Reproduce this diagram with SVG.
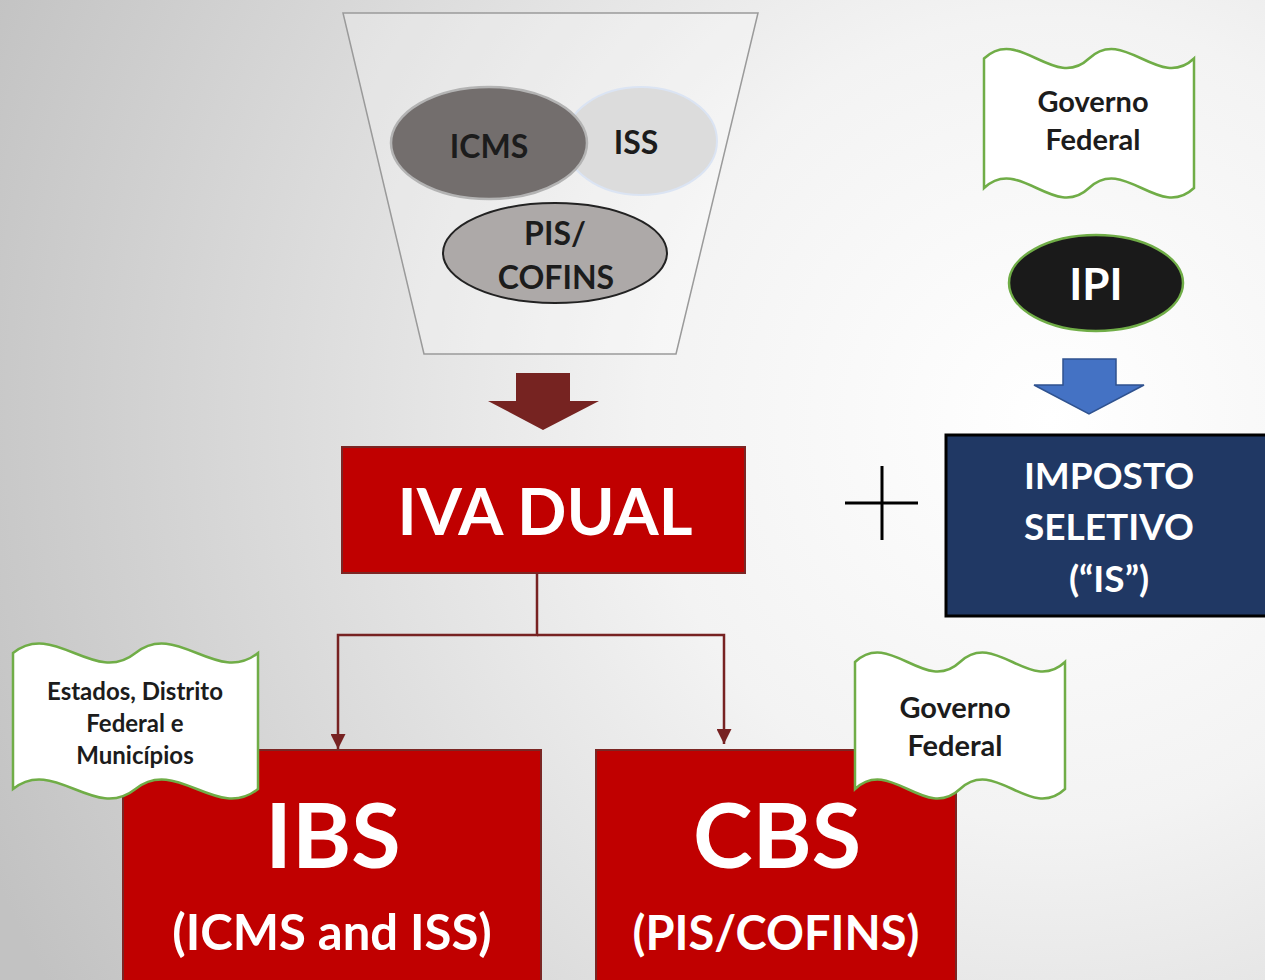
<svg xmlns="http://www.w3.org/2000/svg" width="1265" height="980" viewBox="0 0 1265 980">
<defs>
<radialGradient id="bg" cx="1050" cy="420" r="1150" gradientUnits="userSpaceOnUse">
<stop offset="0" stop-color="#ffffff"/>
<stop offset="0.35" stop-color="#f3f3f3"/>
<stop offset="1" stop-color="#c2c2c2"/>
</radialGradient>
<marker id="ah" viewBox="0 0 10 10" refX="10" refY="5" markerWidth="6" markerHeight="6" markerUnits="strokeWidth" orient="auto">
<path d="M0,0 L10,5 L0,10 Z" fill="#772222"/>
</marker>
<style>
text{font-family:Lato,"Open Sans","Liberation Sans",sans-serif;font-weight:bold;text-anchor:middle}
.dk{fill:#1c1c1c}
.wh{fill:#ffffff}
.red{fill:#c00000;stroke:#7b2624;stroke-width:2}
.banner{fill:#ffffff;stroke:#70ad47;stroke-width:2.5}
.conn{fill:none;stroke:#772222;stroke-width:2.5}
</style>
</defs>
<rect x="0" y="0" width="1265" height="980" fill="url(#bg)"/>

<g id="funnel">
<path d="M343,13 L758,13 L676,354 L424,354 Z" fill="#ffffff" fill-opacity="0.25" stroke="#9a9a9a" stroke-width="1.5"/>
</g>
<g id="iss">
<ellipse cx="641" cy="141" rx="76" ry="54" fill="#dcdcdc" stroke="#dbe4f3" stroke-width="2"/>
<text class="dk" x="636" y="154" font-size="32">ISS</text>
</g>
<g id="icms">
<ellipse cx="489" cy="143" rx="98" ry="56" fill="#736e6d" stroke="#b3b3b3" stroke-width="2.5"/>
<text class="dk" x="489" y="158" font-size="32">ICMS</text>
</g>
<g id="piscofins">
<ellipse cx="555" cy="253" rx="112" ry="50" fill="#ada9a8" stroke="#222222" stroke-width="2"/>
<text class="dk" x="555" y="245" font-size="32">PIS/</text>
<text class="dk" x="556" y="289" font-size="32">COFINS</text>
</g>
<g id="arrow-red">
<path d="M516,373 L570,373 L570,401 L599,401 L543,430 L488,401 L516,401 Z" fill="#762321"/>
</g>

<g id="gov-top">
<path class="banner" d="M984,58.5 C1019,25.5 1054,91.5 1089,58.5 C1124,25.5 1159,91.5 1194,58.5 L1194,188 C1159,221 1124,155 1089,188 C1054,221 1019,155 984,188 Z"/>
<text class="dk" x="1093" y="112" font-size="29">Governo</text>
<text class="dk" x="1093" y="150" font-size="29">Federal</text>
</g>
<g id="ipi">
<ellipse cx="1096" cy="283" rx="87" ry="48" fill="#1a1a1a" stroke="#70ad47" stroke-width="2.5"/>
<text class="wh" x="1096" y="300" font-size="44">IPI</text>
</g>
<g id="arrow-blue">
<path d="M1063,359 L1116,359 L1116,385 L1144,385 L1089,414 L1034,385 L1063,385 Z" fill="#4472c4" stroke="#2f528f" stroke-width="1.5"/>
</g>

<g id="iva">
<rect class="red" x="342" y="447" width="403" height="126"/>
<text class="wh" x="545" y="535" font-size="65">IVA DUAL</text>
</g>
<g id="plus">
<path d="M845,503 L918,503 M882,466 L882,540" stroke="#000000" stroke-width="3" fill="none"/>
</g>
<g id="is">
<rect x="946" y="435" width="322" height="181" fill="#203864" stroke="#000000" stroke-width="3"/>
<text class="wh" x="1109" y="489" font-size="37">IMPOSTO</text>
<text class="wh" x="1109" y="540" font-size="37">SELETIVO</text>
<text class="wh" x="1109" y="592" font-size="37">(“IS”)</text>
</g>

<g id="connectors">
<path class="conn" d="M537,573 L537,635 L338,635 L338,749" marker-end="url(#ah)"/>
<path class="conn" d="M537,635 L724,635 L724,744" marker-end="url(#ah)"/>
</g>

<g id="ibs">
<rect class="red" x="123" y="750" width="418" height="240"/>
<text class="wh" x="333" y="868" font-size="90">IBS</text>
<text class="wh" x="332" y="950" font-size="49">(ICMS and ISS)</text>
</g>
<g id="cbs">
<rect class="red" x="596" y="750" width="360" height="240"/>
<text class="wh" x="777" y="868" font-size="90">CBS</text>
<text class="wh" x="776" y="950" font-size="47">(PIS/COFINS)</text>
</g>

<g id="estados">
<path class="banner" d="M13,653 C53.8,620 94.7,686 135.5,653 C176.3,620 217.2,686 258,653 L258,789 C217.2,822 176.3,756 135.5,789 C94.7,822 53.8,756 13,789 Z"/>
<text class="dk" x="135" y="700" font-size="24">Estados, Distrito</text>
<text class="dk" x="135" y="732" font-size="24">Federal e</text>
<text class="dk" x="135" y="764" font-size="24">Municípios</text>
</g>
<g id="gov-bottom">
<path class="banner" d="M855,662 C890,629 925,695 960,662 C995,629 1030,695 1065,662 L1065,789 C1030,822 995,756 960,789 C925,822 890,756 855,789 Z"/>
<text class="dk" x="955" y="718" font-size="29">Governo</text>
<text class="dk" x="955" y="756" font-size="29">Federal</text>
</g>
</svg>
